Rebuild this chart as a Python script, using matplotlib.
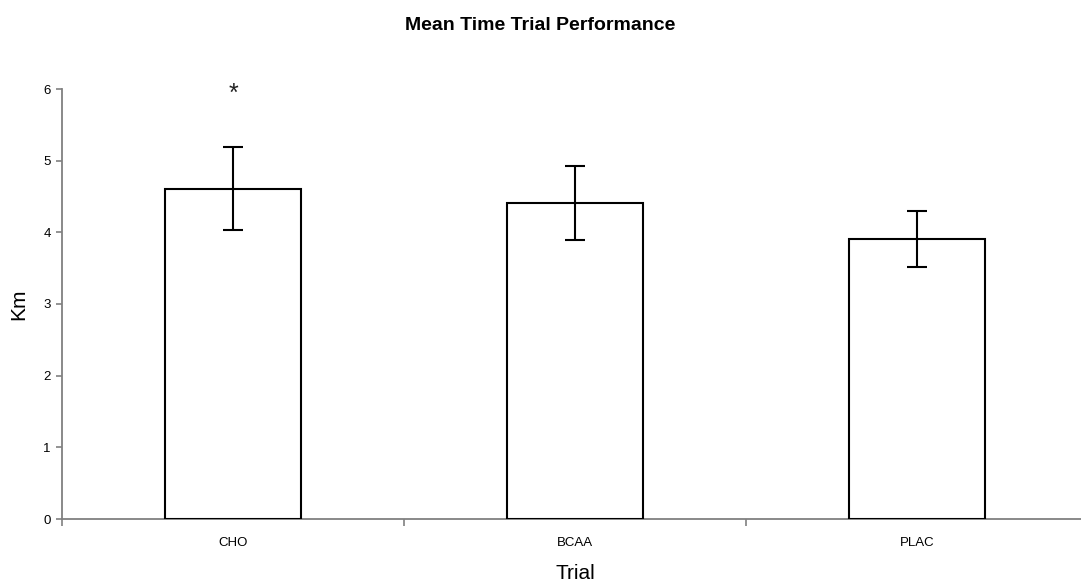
import numpy as np
import matplotlib.pyplot as plt
from matplotlib.ticker import FixedLocator, NullFormatter

plt.rcParams['font.family'] = ['Liberation Sans', 'DejaVu Sans']

# data
trials = ["CHO", "BCAA", "PLAC"]
mean_km = [4.61, 4.41, 3.91]
err_km = [0.58, 0.52, 0.39]
signif = ["*", "", ""]

fig = plt.figure(figsize=(10.81, 5.88), dpi=100)
ax = fig.add_axes([62/1081, 69/588, 1026/1081, 430/588])

x = np.arange(len(trials))
ax.bar(x, mean_km, width=0.4, color="white", edgecolor="black", linewidth=1.5,
       yerr=err_km, capsize=7.5, error_kw=dict(elinewidth=1.5, capthick=1.5, ecolor="black"),
       zorder=3)

for xi, s in zip(x, signif):
    if s:
        ax.text(xi, 5.93, s, ha="center", va="center", fontsize=18, color="#222222")

ax.set_xlim(-0.5, len(trials) - 0.5)
ax.set_ylim(0, 6)
ax.set_yticks(range(0, 7))

# category boundaries get tick marks, centers get labels
ax.xaxis.set_major_locator(FixedLocator(np.arange(-0.5, len(trials), 1.0)))
ax.xaxis.set_major_formatter(NullFormatter())
ax.xaxis.set_minor_locator(FixedLocator(x))
ax.set_xticklabels(trials, minor=True)
ax.tick_params(axis="x", which="major", length=5, width=1.2, color="#808080", direction="out")
ax.tick_params(axis="x", which="minor", length=0, pad=13, labelsize=9.5)
ax.tick_params(axis="y", length=4, width=1.2, color="#808080", pad=4, labelsize=9.5)

for side in ["top", "right"]:
    ax.spines[side].set_visible(False)
for side in ["left", "bottom"]:
    ax.spines[side].set_color("#808080")
    ax.spines[side].set_linewidth(1.3)

ax.set_xlabel("Trial", fontsize=15, labelpad=11)
ax.set_ylabel("Km", fontsize=15, labelpad=11)
fig.text(0.5, 1 - 26/588, "Mean Time Trial Performance", ha="center", va="center",
         fontsize=14, fontweight="bold")

fig.savefig("out.png", dpi=100)
